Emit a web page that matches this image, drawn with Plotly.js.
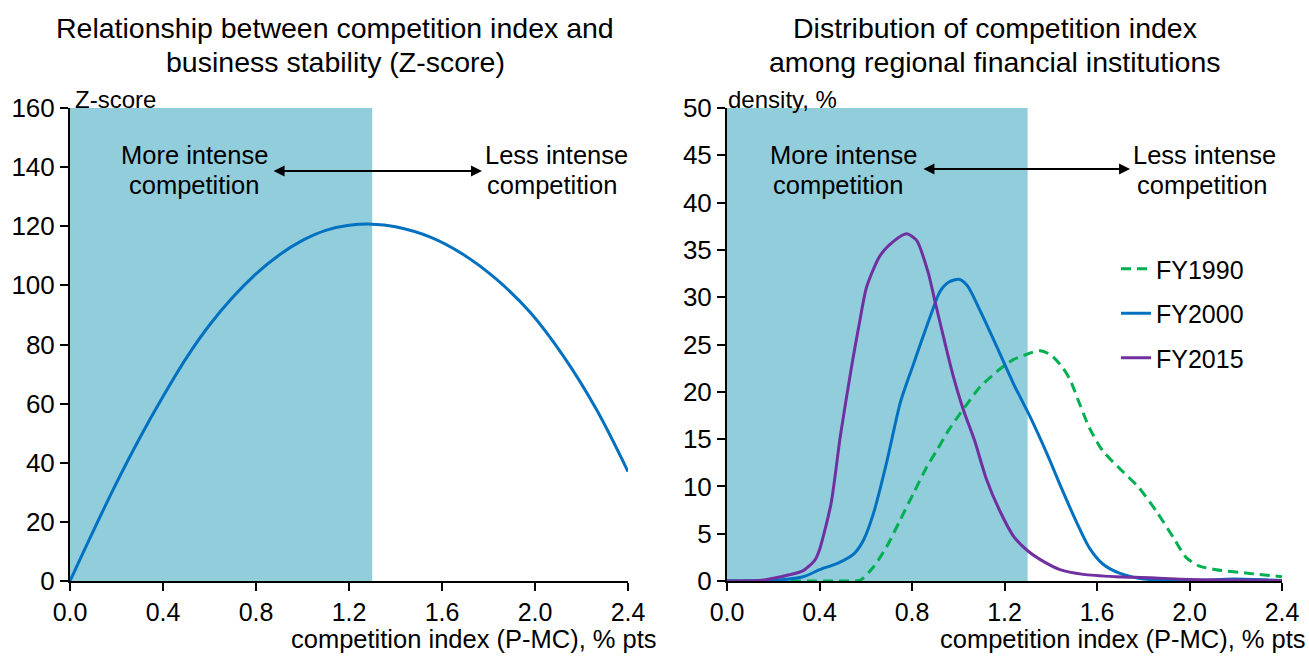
<!DOCTYPE html>
<html>
<head>
<meta charset="utf-8">
<script src="https://cdn.plot.ly/plotly-3.0.1.min.js"></script>
<style>html,body{margin:0;padding:0;background:#fff;}#chart{width:1309px;height:657px;}</style>
</head>
<body>
<div id="chart"></div>
<script>
// Left panel: Z-score vs competition index
const zX = [0, 0.1, 0.2, 0.3, 0.4, 0.5, 0.6, 0.7, 0.8, 0.9, 1.0, 1.1, 1.2, 1.3, 1.4, 1.55, 1.69, 1.835, 1.98, 2.12, 2.265, 2.4];
const zY = [0, 16.9, 33.2, 48.4, 62.4, 75.4, 86.6, 96.0, 103.9, 110.3, 115.2, 118.6, 120.3, 120.7, 119.8, 116.3, 110.5, 102.0, 90.8, 76.3, 57.9, 37.0];

// Right panel: density distributions
const fy1990X = [0, 0.3, 0.5, 0.577, 0.634, 0.69, 0.75, 0.807, 0.865, 0.907, 0.96, 1.008, 1.094, 1.17, 1.238, 1.30, 1.354, 1.40, 1.45, 1.483, 1.527, 1.567, 1.625, 1.71, 1.78, 1.856, 1.93, 1.985, 2.04, 2.115, 2.26, 2.4];
const fy1990Y = [0, 0, 0, 0.1, 1.5, 3.6, 6.5, 9.3, 12.1, 13.8, 16.0, 17.7, 20.5, 22.2, 23.4, 24.0, 24.35, 23.9, 22.6, 21.3, 18.6, 16.2, 13.75, 11.6, 9.9, 7.4, 4.6, 2.5, 1.6, 1.2, 0.8, 0.45];

const fy2000X = [0, 0.19, 0.33, 0.40, 0.48, 0.55, 0.59, 0.634, 0.69, 0.75, 0.806, 0.878, 0.921, 0.96, 1.003, 1.04, 1.094, 1.166, 1.238, 1.31, 1.39, 1.438, 1.51, 1.567, 1.625, 1.70, 1.78, 1.9, 2.04, 2.19, 2.4];
const fy2000Y = [0, 0.05, 0.45, 1.2, 1.9, 2.9, 4.3, 7.2, 12.5, 18.9, 22.9, 27.9, 30.6, 31.6, 31.9, 31.2, 28.6, 24.8, 20.9, 17.4, 13.1, 10.3, 6.3, 3.5, 1.8, 0.8, 0.3, 0.05, 0.05, 0.2, 0.05];

const fy2015X = [0, 0.16, 0.26, 0.33, 0.38, 0.40, 0.45, 0.49, 0.539, 0.575, 0.604, 0.662, 0.72, 0.777, 0.82, 0.87, 0.899, 0.95, 0.979, 1.022, 1.07, 1.12, 1.18, 1.24, 1.30, 1.366, 1.44, 1.54, 1.68, 1.83, 1.97, 2.19, 2.4];
const fy2015Y = [0, 0.1, 0.6, 1.1, 2.2, 3.3, 8.2, 15.3, 22.7, 27.6, 31.1, 34.4, 35.9, 36.7, 36.0, 32.6, 29.6, 24.4, 21.6, 18.1, 14.9, 10.9, 7.4, 4.7, 3.2, 2.1, 1.2, 0.7, 0.46, 0.35, 0.18, 0.1, 0.05];

const seriesNames = ['FY1990', 'FY2000', 'FY2015'];
const xTicks = [0, 0.4, 0.8, 1.2, 1.6, 2.0, 2.4];
const xTickText = ['0.0', '0.4', '0.8', '1.2', '1.6', '2.0', '2.4'];
const shadeEnd = 1.3;

const FONT = 'Arial, "Liberation Sans", sans-serif';
const SHADE = '#92CDDC';
const BLUE = '#0070C0', PURPLE = '#7030A0', GREEN = '#00B050';

const traces = [
  {x: zX, y: zY, xaxis: 'x', yaxis: 'y', mode: 'lines', line: {color: BLUE, width: 3, shape: 'spline', smoothing: 1}, showlegend: false, hoverinfo: 'skip'},
  {x: fy1990X, y: fy1990Y, xaxis: 'x2', yaxis: 'y2', mode: 'lines', name: seriesNames[0], legendgroup: 'a', line: {color: GREEN, width: 3, dash: '10px,6px', shape: 'spline', smoothing: 0.7}},
  {x: fy2000X, y: fy2000Y, xaxis: 'x2', yaxis: 'y2', mode: 'lines', name: seriesNames[1], legendgroup: 'b', line: {color: BLUE, width: 3, shape: 'spline', smoothing: 0.7}},
  {x: fy2015X, y: fy2015Y, xaxis: 'x2', yaxis: 'y2', mode: 'lines', name: seriesNames[2], legendgroup: 'c', line: {color: PURPLE, width: 3, shape: 'spline', smoothing: 0.7}}
];

const W = 1309, H = 657;
const xAxisCommon = {
  range: [0, 2.4], tickvals: xTicks, ticktext: xTickText, showgrid: false, zeroline: false,
  showline: true, linecolor: '#000', linewidth: 2, ticks: 'outside', ticklen: 8, tickwidth: 2, tickcolor: '#000',
  tickfont: {family: FONT, size: 25, color: '#000'}, fixedrange: true
};
const yAxisCommon = {
  showgrid: false, zeroline: false, showline: true, linecolor: '#000', linewidth: 2,
  ticks: 'outside', ticklen: 8, tickwidth: 2, tickcolor: '#000',
  tickfont: {family: FONT, size: 26, color: '#000'}, fixedrange: true
};
const yDom = [(H - 581) / H, (H - 108) / H];

const txt = (o) => Object.assign({showarrow: false, xref: 'paper', yref: 'paper', yanchor: 'middle',
                                  font: {family: FONT, size: 25.5, color: '#000'}}, o);
const py = (p) => (H - p) / H;
const px = (p) => p / W;
const TITLE_FONT = {family: FONT, size: 28.5, color: '#000'};
const SMALL_FONT = {family: FONT, size: 24, color: '#000'};

const layout = {
  width: W, height: H,
  margin: {l: 0, r: 0, t: 0, b: 0},
  paper_bgcolor: '#fff', plot_bgcolor: 'rgba(0,0,0,0)',
  xaxis: Object.assign({}, xAxisCommon, {domain: [70 / W, 628 / W], anchor: 'y'}),
  yaxis: Object.assign({}, yAxisCommon, {domain: yDom, range: [0, 160], dtick: 20, anchor: 'x'}),
  xaxis2: Object.assign({}, xAxisCommon, {domain: [727 / W, 1282 / W], anchor: 'y2'}),
  yaxis2: Object.assign({}, yAxisCommon, {domain: yDom, range: [0, 50], dtick: 5, anchor: 'x2'}),
  showlegend: true,
  legend: {x: 1116 / W, y: (H - 246) / H, xanchor: 'left', yanchor: 'top', bgcolor: 'rgba(0,0,0,0)',
           font: {family: FONT, size: 25, color: '#000'}, tracegroupgap: 9, traceorder: 'grouped'},
  shapes: [
    {type: 'rect', xref: 'x', yref: 'y', x0: 0, x1: shadeEnd, y0: 0, y1: 160, fillcolor: SHADE, line: {width: 0}, layer: 'below'},
    {type: 'rect', xref: 'x2', yref: 'y2', x0: 0, x1: shadeEnd, y0: 0, y1: 50, fillcolor: SHADE, line: {width: 0}, layer: 'below'}
  ],
  annotations: [
    txt({x: px(335), y: py(28), xanchor: 'center', text: 'Relationship between competition index and', font: TITLE_FONT}),
    txt({x: px(335), y: py(62), xanchor: 'center', text: 'business stability (Z-score)', font: TITLE_FONT}),
    txt({x: px(995), y: py(28), xanchor: 'center', text: 'Distribution of competition index', font: TITLE_FONT}),
    txt({x: px(995), y: py(62), xanchor: 'center', text: 'among regional financial institutions', font: TITLE_FONT}),
    txt({x: px(73), y: py(99), xanchor: 'left', text: 'Z-score', font: SMALL_FONT}),
    txt({x: px(726), y: py(99), xanchor: 'left', text: 'density, %', font: SMALL_FONT}),
    txt({x: px(659), y: py(639), xanchor: 'right', text: 'competition index (P-MC), % pts'}),
    txt({x: px(1308), y: py(639), xanchor: 'right', text: 'competition index (P-MC), % pts'}),
    txt({x: px(194), y: py(155), xanchor: 'center', text: 'More intense'}),
    txt({x: px(194), y: py(185), xanchor: 'center', text: 'competition'}),
    txt({x: px(556), y: py(155), xanchor: 'center', text: 'Less intense'}),
    txt({x: px(552), y: py(185), xanchor: 'center', text: 'competition'}),
    txt({x: px(843), y: py(155), xanchor: 'center', text: 'More intense'}),
    txt({x: px(838), y: py(185), xanchor: 'center', text: 'competition'}),
    txt({x: px(1204), y: py(155), xanchor: 'center', text: 'Less intense'}),
    txt({x: px(1202), y: py(185), xanchor: 'center', text: 'competition'}),
    {xref: 'x', yref: 'y', x: 1.772, y: 138.7, axref: 'x', ayref: 'y', ax: 0.869, ay: 138.7, text: '', showarrow: true,
     arrowhead: 2, startarrowhead: 2, arrowside: 'end+start', arrowsize: 1.1, startarrowsize: 1.1, arrowwidth: 2, arrowcolor: '#000'},
    {xref: 'x2', yref: 'y2', x: 1.743, y: 43.55, axref: 'x2', ayref: 'y2', ax: 0.843, ay: 43.55, text: '', showarrow: true,
     arrowhead: 2, startarrowhead: 2, arrowside: 'end+start', arrowsize: 1.1, startarrowsize: 1.1, arrowwidth: 2, arrowcolor: '#000'}
  ]
};

Plotly.newPlot('chart', traces, layout, {displayModeBar: false, staticPlot: true});
</script>
</body>
</html>
